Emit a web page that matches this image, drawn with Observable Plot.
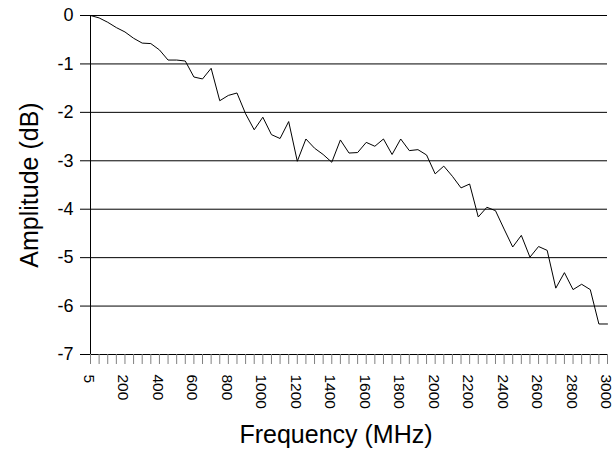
<!DOCTYPE html>
<html>
<head>
<meta charset="utf-8">
<script src="https://cdn.jsdelivr.net/npm/d3@7"></script>
<script src="https://cdn.jsdelivr.net/npm/@observablehq/plot@0.6"></script>
<style>
  body { margin: 0; background: #fff; }
  #chart svg { display: block; }
</style>
</head>
<body>
<div id="chart"></div>
<script>
// Measured frequency response: one category per frequency step
const frequencies = [5, 50, 100, 150, 200, 250, 300, 350, 400, 450, 500, 550, 600, 650, 700, 750,
  800, 850, 900, 950, 1000, 1050, 1100, 1150, 1200, 1250, 1300, 1350, 1400, 1450, 1500, 1550,
  1600, 1650, 1700, 1750, 1800, 1850, 1900, 1950, 2000, 2050, 2100, 2150, 2200, 2250, 2300,
  2350, 2400, 2450, 2500, 2550, 2600, 2650, 2700, 2750, 2800, 2850, 2900, 2950, 3000];

const amplitudes = [0.00, -0.05, -0.14, -0.25, -0.34, -0.47, -0.57, -0.58, -0.71, -0.92, -0.92,
  -0.94, -1.27, -1.31, -1.09, -1.76, -1.65, -1.60, -2.03, -2.36, -2.10, -2.46, -2.54, -2.19,
  -3.01, -2.55, -2.74, -2.87, -3.03, -2.57, -2.84, -2.83, -2.62, -2.70, -2.55, -2.87, -2.55,
  -2.79, -2.77, -2.88, -3.27, -3.11, -3.32, -3.56, -3.48, -4.16, -3.96, -4.03, -4.41, -4.78,
  -4.54, -4.99, -4.77, -4.85, -5.63, -5.31, -5.66, -5.55, -5.66, -6.37, -6.37];

const yTicks = [0, -1, -2, -3, -4, -5, -6, -7];
const xTickLabels = [5, 200, 400, 600, 800, 1000, 1200, 1400, 1600, 1800, 2000, 2200, 2400, 2600, 2800, 3000];

const rows = frequencies.map((f, i) => ({frequency: f, amplitude: amplitudes[i]}));

const chart = Plot.plot({
  width: 615,
  height: 454,
  marginLeft: 90,
  marginRight: 8,
  marginTop: 15,
  marginBottom: 100,
  style: {fontFamily: "'Liberation Sans', Arial, sans-serif", color: "#000", background: "#fff"},
  x: {type: "point", domain: frequencies, padding: 0},
  y: {domain: [-7, 0]},
  marks: [
    // horizontal gridlines, the bottom one doubling as the category axis
    Plot.ruleY(yTicks, {stroke: "#000", strokeWidth: 1}),
    Plot.ruleX([frequencies[0]], {stroke: "#000", strokeWidth: 1}),
    Plot.axisY({
      ticks: yTicks,
      tickSize: 10,
      tickPadding: 7,
      tickFormat: d => String(d),
      fontSize: 18,
      letterSpacing: 1.5,
      stroke: "#000",
      label: null
    }),
    // a tick for every category, labels only every fourth one
    Plot.axisX({
      tickSize: 10,
      tickFormat: () => "",
      stroke: "#808080",
      label: null
    }),
    Plot.text(xTickLabels, {
      x: d => d,
      text: d => String(d),
      frameAnchor: "bottom",
      rotate: 90,
      textAnchor: "start",
      lineAnchor: "middle",
      dx: -1.5,
      dy: 20,
      fontSize: 15.5,
      letterSpacing: 0.6,
      fill: "#000"
    }),
    Plot.line(rows, {x: "frequency", y: "amplitude", stroke: "#000", strokeWidth: 1}),
    Plot.text(["Amplitude (dB)"], {
      frameAnchor: "left", textAnchor: "middle", lineAnchor: "middle",
      dx: -61, rotate: -90, fontSize: 25, letterSpacing: 0.4, fill: "#000"
    }),
    Plot.text(["Frequency (MHz)"], {
      frameAnchor: "bottom", textAnchor: "middle", lineAnchor: "middle",
      dx: -13, dy: 80, fontSize: 25, letterSpacing: 2, fill: "#000"
    })
  ]
});

document.getElementById("chart").append(chart);
</script>
</body>
</html>
